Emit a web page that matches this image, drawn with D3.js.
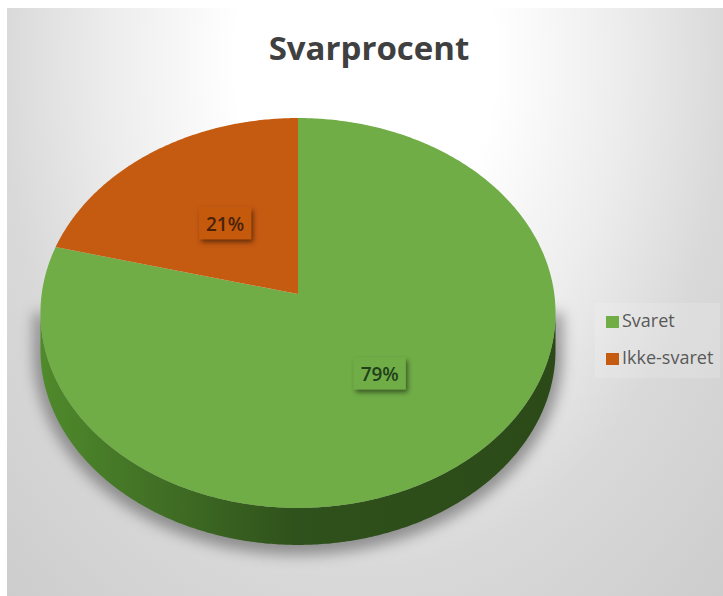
<!DOCTYPE html>
<html>
<head>
<meta charset="utf-8">
<script src="https://cdn.jsdelivr.net/npm/d3@7"></script>
<style>
  html, body { margin: 0; padding: 0; background: #fff; }
  svg { display: block; }
  text { font-family: "Open Sans", sans-serif; }
</style>
</head>
<body>
<div id="chart"></div>
<script>
const chartTitle = "Svarprocent";
const categories = ["Svaret", "Ikke-svaret"];
const percentages = [79, 21];
const sliceColors = ["#70ad47", "#c55a11"];
const labelColors = ["#21401a", "#4a2208"];

const width = 723, height = 596;

const svg = d3.select("#chart").append("svg")
    .attr("width", width)
    .attr("height", height);

const defs = svg.append("defs");

// fondo gris con centro blanco arriba
const bgGrad = defs.append("radialGradient")
    .attr("id", "bg")
    .attr("gradientUnits", "userSpaceOnUse")
    .attr("cx", 0).attr("cy", 0).attr("r", 520)
    .attr("gradientTransform", "translate(365,60) scale(1,1.4)");
bgGrad.append("stop").attr("offset", "0.25").attr("stop-color", "#ffffff");
bgGrad.append("stop").attr("offset", "0.5").attr("stop-color", "#ececec");
bgGrad.append("stop").attr("offset", "0.7").attr("stop-color", "#d9d9d9");
bgGrad.append("stop").attr("offset", "1").attr("stop-color", "#cdcdcd");

// lado de la torta, mas claro a la izquierda
const wallGrad = defs.append("linearGradient")
    .attr("id", "wall")
    .attr("gradientUnits", "userSpaceOnUse")
    .attr("x1", 40).attr("x2", 555).attr("y1", 0).attr("y2", 0);
wallGrad.append("stop").attr("offset", "0").attr("stop-color", "#4f8a2b");
wallGrad.append("stop").attr("offset", "0.2").attr("stop-color", "#437326");
wallGrad.append("stop").attr("offset", "0.5").attr("stop-color", "#2f511b");
wallGrad.append("stop").attr("offset", "1").attr("stop-color", "#2b4a18");

defs.append("filter").attr("id", "pieShadow")
    .attr("x", "-10%").attr("y", "-30%").attr("width", "120%").attr("height", "160%")
    .append("feGaussianBlur").attr("stdDeviation", 7);

const boxShadow = defs.append("filter").attr("id", "boxShadow")
    .attr("x", "-30%").attr("y", "-30%").attr("width", "160%").attr("height", "170%");
boxShadow.append("feDropShadow")
    .attr("dx", 2).attr("dy", 3).attr("stdDeviation", 2.5)
    .attr("flood-color", "#000").attr("flood-opacity", 0.5);

svg.append("rect")
    .attr("x", 7).attr("y", 8)
    .attr("width", width - 7).attr("height", height - 8)
    .attr("fill", "url(#bg)");

// Titulo
svg.append("text")
    .attr("x", 369).attr("y", 60)
    .attr("text-anchor", "middle")
    .attr("font-size", 33)
    .attr("font-weight", 700)
    .attr("fill", "#404040")
    .text(chartTitle);

// Proyeccion en perspectiva del circulo unidad
const apex = {x: 298, y: 294};
const scaleX = 256.3, scaleY = 193.1, persp = -0.0974, depth = 37;

function project(angle) {
    const ux = Math.sin(angle), uy = -Math.cos(angle);
    const w = 1 + persp * uy;
    return [apex.x + scaleX * ux / w, apex.y + scaleY * uy / w];
}

const line = d3.line();
const pieData = d3.pie().sort(null)(percentages);

function sampleAngles(a0, a1) {
    const n = Math.max(2, Math.ceil((a1 - a0) / 0.01));
    return d3.range(n + 1).map(i => a0 + (a1 - a0) * i / n);
}

// Limites de la parte visible del lado
const allAngles = sampleAngles(0, 2 * Math.PI);
const wallStart = d3.greatest(allAngles, a => project(a)[0]);
const wallEnd = d3.least(allAngles, a => project(a)[0]);

function wallPath(a0, a1, shift) {
    const lo = Math.max(a0, wallStart), hi = Math.min(a1, wallEnd);
    if (hi <= lo) return null;
    const top = sampleAngles(lo, hi).map(project);
    const bottom = top.map(p => [p[0], p[1] + shift]).reverse();
    return line(top.concat(bottom)) + "Z";
}

// Sombra debajo de la torta
svg.append("path")
    .attr("d", wallPath(0, 2 * Math.PI, depth + 3))
    .attr("fill", "#6e6e6e")
    .attr("stroke", "#6e6e6e")
    .attr("stroke-width", 14)
    .attr("opacity", 0.7)
    .attr("filter", "url(#pieShadow)");

// Lado
svg.append("g").selectAll("path")
    .data(pieData)
    .join("path")
    .attr("d", d => wallPath(d.startAngle, d.endAngle, depth))
    .attr("fill", "url(#wall)");

// Cara superior
svg.append("g").selectAll("path")
    .data(pieData)
    .join("path")
    .attr("d", d => line([[apex.x, apex.y]].concat(sampleAngles(d.startAngle, d.endAngle).map(project))) + "Z")
    .attr("fill", (d, i) => sliceColors[i]);

// Etiquetas de porcentaje, sobre el angulo medio de cada porcion
const labelFrac = [0.48, 0.5];
const labels = svg.append("g").selectAll("g")
    .data(pieData)
    .join("g")
    .attr("transform", (d, i) => {
        const p = project((d.startAngle + d.endAngle) / 2);
        const x = apex.x + (p[0] - apex.x) * labelFrac[i];
        const y = apex.y + (p[1] - apex.y) * labelFrac[i];
        return `translate(${x},${y})`;
    });
labels.append("rect")
    .attr("x", -26).attr("y", -16)
    .attr("width", 52).attr("height", 32)
    .attr("fill", (d, i) => sliceColors[i])
    .attr("filter", "url(#boxShadow)");
labels.append("text")
    .attr("y", 8)
    .attr("text-anchor", "middle")
    .attr("font-size", 19)
    .attr("font-weight", 600)
    .attr("fill", (d, i) => labelColors[i])
    .text((d, i) => percentages[i] + "%");

// Leyenda
const legend = svg.append("g");
legend.append("rect")
    .attr("x", 595).attr("y", 303)
    .attr("width", 125).attr("height", 75)
    .attr("fill", "#ffffff")
    .attr("opacity", 0.15);
const legendY = d3.scalePoint().domain(categories).range([322, 359]);
const legendItems = legend.selectAll("g")
    .data(categories)
    .join("g")
    .attr("transform", d => `translate(606,${legendY(d)})`);
legendItems.append("rect")
    .attr("x", 0).attr("y", -6)
    .attr("width", 13).attr("height", 12)
    .attr("fill", (d, i) => sliceColors[i]);
legendItems.append("text")
    .attr("x", 16).attr("y", 5)
    .attr("font-size", 18)
    .attr("fill", "#595959")
    .text(d => d);
</script>
</body>
</html>
